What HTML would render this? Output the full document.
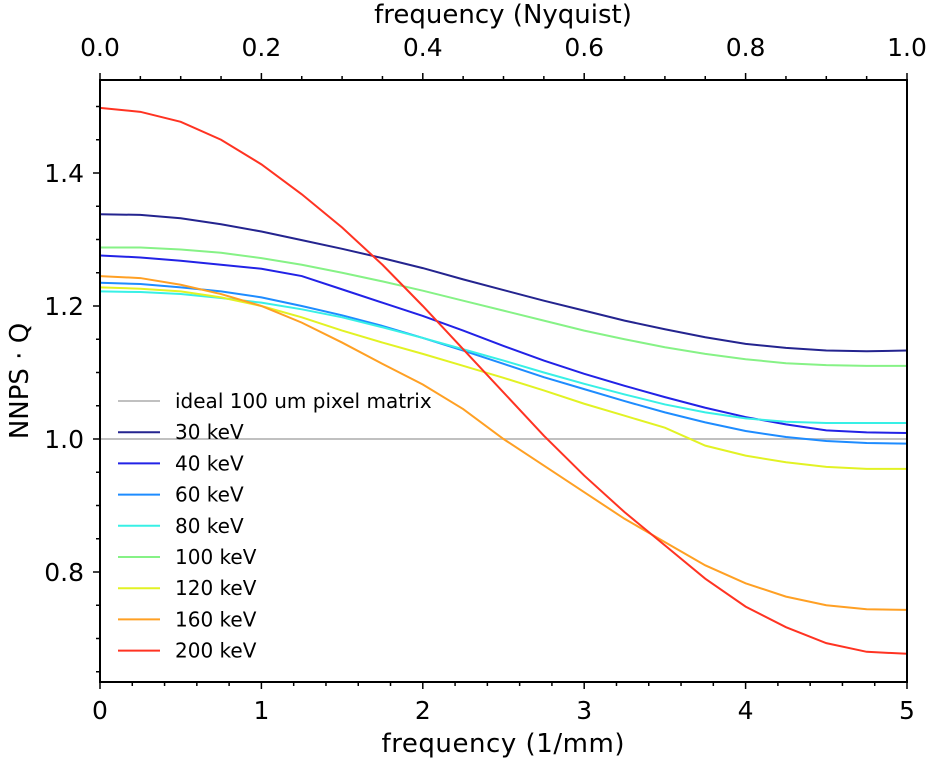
<!DOCTYPE html>
<html><head><meta charset="utf-8"><style>
body{margin:0;background:#fff;}
svg text{font-family:"DejaVu Sans","Liberation Sans",sans-serif;fill:#000;}
</style></head><body>
<svg id="chart" width="931" height="767" xmlns="http://www.w3.org/2000/svg"></svg>
<script>
const freqs=[0,0.25,0.5,0.75,1,1.25,1.5,1.75,2,2.25,2.5,2.75,3,3.25,3.5,3.75,4,4.25,4.5,4.75,5];
const labels=["30 keV","40 keV","60 keV","80 keV","100 keV","120 keV","160 keV","200 keV"];
const colors=["#24248f","#2222e6","#1e8cff","#38f0e6","#86f286","#e2f224","#ffa024","#ff3322"];
const s30=[1.338,1.337,1.332,1.323,1.312,1.299,1.286,1.272,1.257,1.24,1.224,1.208,1.193,1.178,1.165,1.153,1.143,1.137,1.133,1.132,1.133];
const s40=[1.276,1.273,1.268,1.262,1.256,1.245,1.225,1.205,1.185,1.163,1.14,1.118,1.098,1.08,1.063,1.047,1.033,1.022,1.013,1.01,1.009];
const s60=[1.235,1.233,1.228,1.222,1.213,1.2,1.186,1.17,1.152,1.133,1.113,1.093,1.075,1.057,1.04,1.025,1.012,1.003,0.997,0.994,0.993];
const s80=[1.222,1.221,1.218,1.212,1.205,1.195,1.183,1.168,1.152,1.135,1.118,1.1,1.083,1.067,1.052,1.04,1.031,1.026,1.024,1.024,1.024];
const s100=[1.288,1.288,1.285,1.28,1.272,1.262,1.25,1.237,1.223,1.208,1.193,1.178,1.163,1.15,1.138,1.128,1.12,1.114,1.111,1.11,1.11];
const s120=[1.228,1.226,1.222,1.213,1.2,1.183,1.163,1.145,1.128,1.11,1.092,1.073,1.053,1.035,1.017,0.99,0.975,0.965,0.958,0.955,0.955];
const s160=[1.245,1.242,1.232,1.218,1.2,1.175,1.145,1.113,1.082,1.045,1.0,0.96,0.92,0.88,0.845,0.81,0.783,0.763,0.75,0.744,0.743];
const s200=[1.498,1.492,1.477,1.45,1.413,1.368,1.318,1.262,1.2,1.135,1.07,1.005,0.945,0.89,0.84,0.79,0.748,0.717,0.693,0.68,0.677];
const series=[s30,s40,s60,s80,s100,s120,s160,s200];
const xTicks=[0,1,2,3,4,5];
const topTicks=["0.0","0.2","0.4","0.6","0.8","1.0"];
const yTicks=[0.8,1.0,1.2,1.4];
const ideal=1.0;

const L=100,R=907,T=80,B=682;
const X=v=>L+(v-0)/5*(R-L);
const Y=v=>439-(v-1.0)*665;
const NS="http://www.w3.org/2000/svg";
const svg=document.getElementById('chart');
function mk(tag,attrs,parent){const e=document.createElementNS(NS,tag);for(const k in attrs)e.setAttribute(k,attrs[k]);(parent||svg).appendChild(e);return e;}

const il=mk('line',{x1:L,x2:R,y1:Y(ideal),y2:Y(ideal),stroke:"#c0c0c0","stroke-width":2});



series.forEach((s,i)=>{
  const p=mk('polyline',{points:s.map((v,j)=>X(freqs[j])+","+Y(v)).join(" "),fill:"none",stroke:colors[i],"stroke-width":2});
  
  
});

const fr=mk('rect',{x:L,y:T,width:R-L,height:B-T,fill:"none",stroke:"#000","stroke-width":2});



for(let k=0;k<=25;k++){const v=k*0.2;const maj=k%5==0;mk('line',{x1:X(v),x2:X(v),y1:B,y2:B+(maj?7:4),stroke:"#000","stroke-width":1.5});}
xTicks.forEach(v=>{const t=mk('text',{x:X(v),y:719,"font-size":25,"text-anchor":"middle"});t.textContent=v;
});
for(let k=0;k<=20;k++){const px=L+k/20*(R-L);const maj=k%4==0;mk('line',{x1:px,x2:px,y1:T,y2:T-(maj?7:4),stroke:"#000","stroke-width":1.5});}
topTicks.forEach((lab,i)=>{const t=mk('text',{x:L+i/5*(R-L),y:56,"font-size":25,"text-anchor":"middle"});t.textContent=lab;
});
for(let k=13;k<=30;k++){const v=k*0.05;const maj=k%4==0;mk('line',{x1:L,x2:L-(maj?7:4),y1:Y(v),y2:Y(v),stroke:"#000","stroke-width":1.5});}
yTicks.forEach(v=>{const t=mk('text',{x:L-16,y:Y(v)+9,"font-size":25,"text-anchor":"end"});t.textContent=v.toFixed(1);
});

let t=mk('text',{x:503,y:752,"font-size":26,"text-anchor":"middle",textLength:243});t.textContent="frequency (1/mm)";

t=mk('text',{x:503,y:23,"font-size":26,"text-anchor":"middle"});t.textContent="frequency (Nyquist)";

t=mk('text',{x:0,y:0,"font-size":26,"text-anchor":"middle",transform:"translate(28,381) rotate(-90)"});t.textContent="NNPS · Q";


const leg=mk('g',{});


const legLabels=["ideal 100 um pixel matrix"].concat(labels);
const legColors=["#c0c0c0"].concat(colors);
legLabels.forEach((lab,i)=>{
  const y=401+i*31.2;
  const g=mk('g',{},leg);
  
  
  mk('line',{x1:118,x2:160,y1:y,y2:y,stroke:legColors[i],"stroke-width":2},g);
  const tx=mk('text',{x:175,y:y+7,"font-size":20},g);tx.textContent=lab;
});
</script>
</body></html>
